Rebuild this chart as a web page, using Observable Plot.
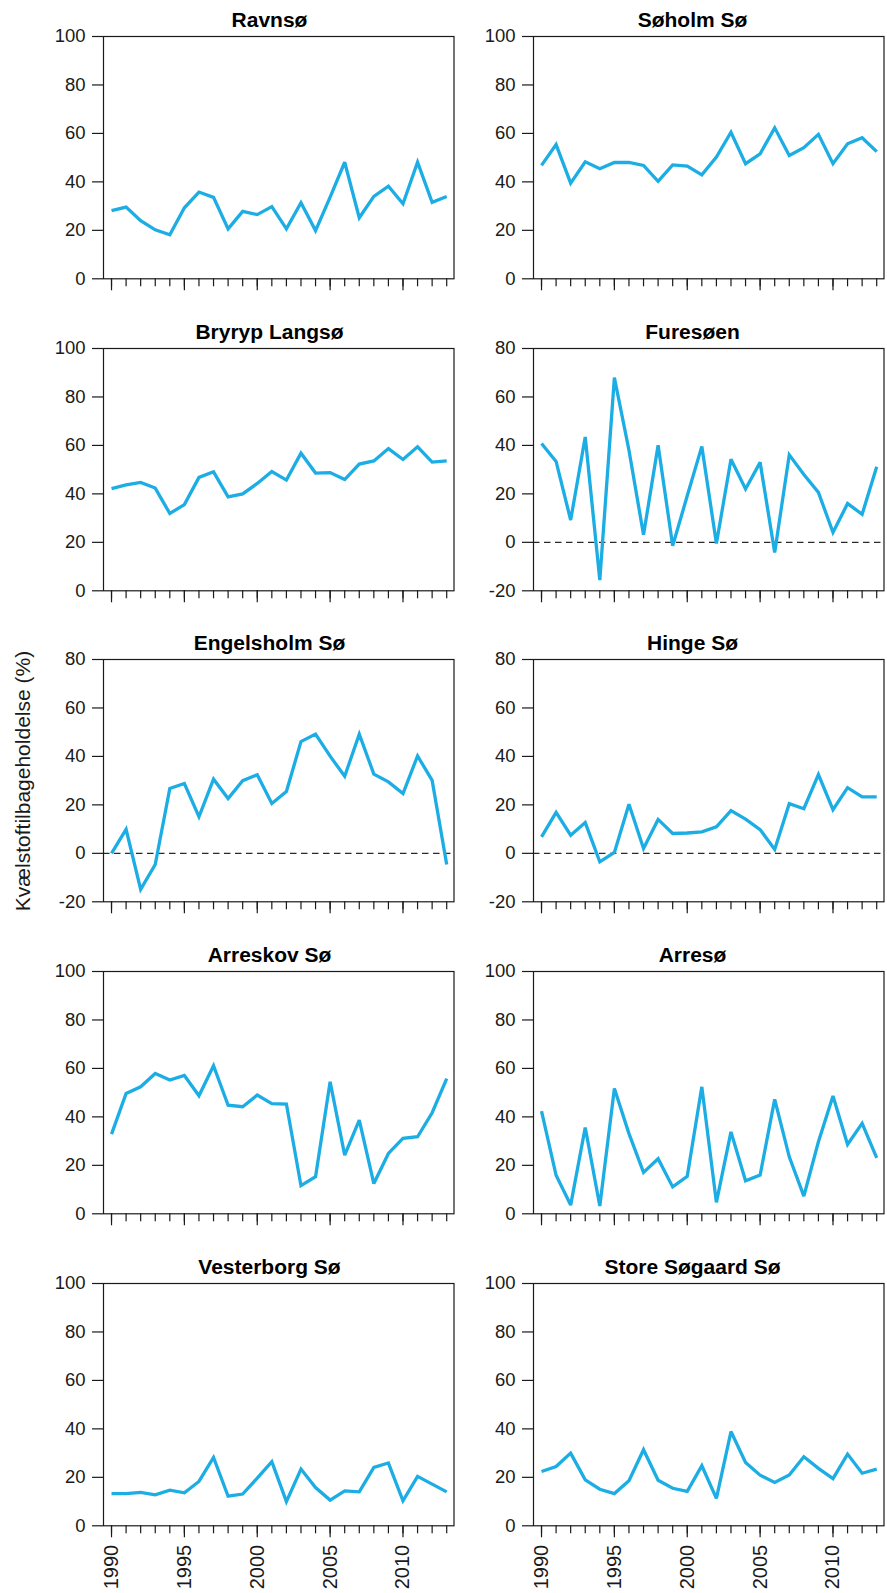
<!DOCTYPE html>
<html>
<head>
<meta charset="utf-8">
<script src="https://cdn.jsdelivr.net/npm/d3@7"></script>
<script src="https://cdn.jsdelivr.net/npm/@observablehq/plot@0.6"></script>
<style>
  body { margin: 0; background: #fff; }
  #chart { position: relative; width: 887px; height: 1593px; overflow: hidden;
           font-family: "Liberation Sans", Arial, Helvetica, sans-serif; color: #1a1a1a; }
  #ylabel { position: absolute; left: 23.4px; top: 781px; white-space: nowrap;
            transform: translate(-50%, -50%) rotate(-90deg); font-size: 21px; }
</style>
</head>
<body>
<div id="chart"><div id="ylabel">Kvælstoftilbageholdelse (%)</div></div>
<script>
// Nitrogen retention (%) per lake, 1990–2013
const years = [1990, 1991, 1992, 1993, 1994, 1995, 1996, 1997, 1998, 1999, 2000, 2001,
               2002, 2003, 2004, 2005, 2006, 2007, 2008, 2009, 2010, 2011, 2012, 2013];

const lakes = ["Ravnsø", "Søholm Sø", "Bryryp Langsø", "Furesøen", "Engelsholm Sø",
               "Hinge Sø", "Arreskov Sø", "Arresø", "Vesterborg Sø", "Store Søgaard Sø"];

const ravnso      = [28.1, 29.6, 24.0, 20.2, 18.2, 29.3, 35.8, 33.6, 20.6, 27.8, 26.5, 29.8,
                     20.6, 31.4, 19.9, 33.7, 48.1, 25.2, 34.0, 38.2, 31.0, 48.1, 31.6, 34.0];
const soholmSo    = [46.8, 55.4, 39.5, 48.3, 45.4, 48.0, 48.0, 46.8, 40.2, 47.0, 46.5, 42.9,
                     50.2, 60.5, 47.5, 51.6, 62.3, 50.9, 54.1, 59.6, 47.5, 55.7, 58.2, 52.5];
const bryrypLangso = [42.2, 43.7, 44.7, 42.4, 31.9, 35.6, 46.8, 49.1, 38.8, 40.0, 44.3, 49.2,
                     45.7, 56.8, 48.6, 48.8, 45.9, 52.3, 53.6, 58.7, 54.2, 59.4, 53.1, 53.6];
const fureso      = [40.8, 33.4, 9.2, 43.5, -15.6, 68.0, 38.0, 3.1, 40.1, -1.4, 19.2, 39.6,
                     -0.5, 34.3, 22.0, 33.0, -4.2, 36.1, 28.0, 20.6, 4.1, 16.0, 11.6, 31.2];
const engelsholmSo = [0.0, 9.9, -14.9, -4.6, 26.8, 28.8, 15.1, 30.6, 22.6, 30.0, 32.4, 20.6,
                     25.5, 46.1, 49.2, 40.1, 31.8, 49.2, 32.7, 29.5, 24.7, 40.2, 30.1, -4.6];
const hingeSo     = [6.8, 16.9, 7.5, 12.7, -3.5, 0.4, 20.3, 2.0, 14.0, 8.2, 8.4, 8.9,
                     10.9, 17.6, 14.1, 9.8, 1.6, 20.5, 18.4, 32.5, 18.0, 27.1, 23.3, 23.3];
const arreskovSo  = [32.9, 49.7, 52.4, 57.9, 55.2, 57.1, 48.7, 61.1, 44.8, 44.2, 49.0, 45.5,
                     45.3, 11.6, 15.3, 54.5, 24.2, 38.7, 12.5, 24.9, 31.1, 31.8, 41.7, 55.8];
const arreso      = [42.4, 15.9, 3.6, 35.6, 3.2, 51.7, 33.1, 17.1, 22.7, 11.1, 15.5, 52.4,
                     4.7, 33.8, 13.6, 16.0, 47.2, 23.5, 7.3, 29.7, 48.6, 28.6, 37.3, 23.1];
const vesterborgSo = [13.3, 13.3, 13.8, 12.8, 14.7, 13.6, 18.3, 28.2, 12.2, 13.1, 19.7, 26.5,
                     10.0, 23.4, 15.8, 10.6, 14.4, 14.0, 24.1, 25.9, 10.3, 20.4, 17.2, 14.0];
const storeSogaardSo = [22.4, 24.5, 30.0, 19.0, 15.1, 13.3, 18.6, 31.4, 18.8, 15.5, 14.2, 24.8,
                     11.3, 38.9, 26.1, 20.9, 17.9, 21.0, 28.5, 23.7, 19.5, 29.6, 21.7, 23.4];

const lakeSeries = [ravnso, soholmSo, bryrypLangso, fureso, engelsholmSo,
                    hingeSo, arreskovSo, arreso, vesterborgSo, storeSogaardSo];

// y tick labels: most lakes 0–100, three lakes go negative (−20–80)
const ticksPositive = [0, 20, 40, 60, 80, 100];
const ticksWithNegative = [-20, 0, 20, 40, 60, 80];
const lakeTicks = [ticksPositive, ticksPositive, ticksPositive, ticksWithNegative, ticksWithNegative,
                   ticksWithNegative, ticksPositive, ticksPositive, ticksPositive, ticksPositive];

// labelled (long) year ticks on the bottom row
const labelYears = [1990, 1995, 2000, 2005, 2010];

const lineBlue = "#1badE4";
const ink = "#1a1a1a";
const fontFamily = '"Liberation Sans", Arial, Helvetica, sans-serif';

const chartEl = document.getElementById("chart");
const rowPitch = 311.67;   // vertical distance between panel rows
const firstPlotTop = 36;   // top of the first row's frame
const plotHeight = 242.3;  // frame height
const colOffset = 430;     // horizontal offset of the right column
const marginTop = 36;

lakes.forEach((name, i) => {
  const col = i % 2;
  const row = Math.floor(i / 2);
  const bottomRow = row === 4;
  const marginBottom = bottomRow ? 68 : 20;
  const ticks = lakeTicks[i];
  const hasNegative = ticks[0] < 0;
  const data = years.map((year, j) => ({year, value: lakeSeries[i][j]}));

  const svg = Plot.plot({
    width: 457,
    height: marginTop + plotHeight + marginBottom,
    marginLeft: 103,
    marginRight: 3.5,
    marginTop,
    marginBottom,
    style: {fontFamily, color: ink, background: "transparent", overflow: "visible"},
    x: {domain: [1989.45, 2013.5]},
    y: {domain: [ticks[0], ticks[ticks.length - 1]]},
    marks: [
      hasNegative ? Plot.ruleY([0], {stroke: "#2a2a2a", strokeWidth: 1.3, strokeDasharray: "6.5,4.5"}) : null,
      Plot.line(data, {x: "year", y: "value", stroke: lineBlue, strokeWidth: 3.3,
                       strokeLinejoin: "miter", strokeMiterlimit: 3, strokeLinecap: "butt"}),
      Plot.frame({stroke: ink, strokeWidth: 1.2}),
      Plot.axisY({ticks, tickSize: 11, tickPadding: 7, fontSize: 18.5, stroke: ink, strokeWidth: 1.2,
                  tickFormat: d => String(d), label: null}),
      Plot.axisX({ticks: years, tickSize: 8, stroke: ink, strokeWidth: 1.2, fill: "none", label: null}),
      Plot.axisX({ticks: labelYears, tickSize: 12, tickPadding: 7, tickRotate: -90, fontSize: 20,
                  stroke: ink, strokeWidth: 1.2, fill: bottomRow ? ink : "none",
                  tickFormat: d => String(d), label: null}),
      Plot.text([name], {text: d => d, frameAnchor: "top", lineAnchor: "bottom", dy: -9.3,
                         dx: col ? -16.25 : -9.25, fontSize: 21, fontWeight: "bold", fill: "#000"})
    ]
  });
  svg.style.position = "absolute";
  svg.style.left = `${col * colOffset}px`;
  svg.style.top = `${firstPlotTop + row * rowPitch - marginTop}px`;
  chartEl.appendChild(svg);
});
</script>
</body>
</html>
